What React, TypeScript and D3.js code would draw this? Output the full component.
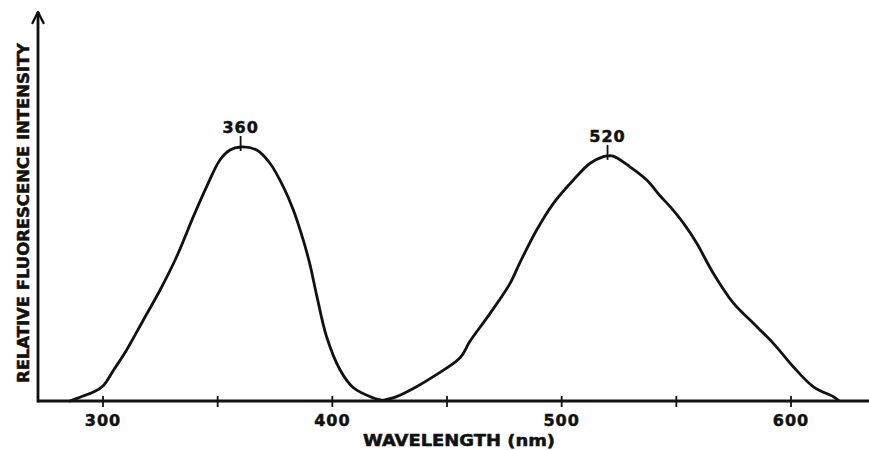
import React, { useEffect, useRef } from 'react';
import * as d3 from 'd3';

// excitation band (nm, relative intensity)
const exNm = [285.6, 290, 295.8, 300.1, 304.5, 310.3, 317.6, 324.9, 332.1, 339.4, 345.2, 351.0, 355.4, 360, 367.0, 372.8, 378.6, 383.0, 387.3, 390.3, 393.2, 397.5, 403.4, 409.2, 417.9, 422];
const exI = [0, 1.5, 3.5, 6.0, 12.0, 20.1, 31.9, 43.7, 56.8, 72.6, 84.4, 94.9, 98.8, 100, 98.8, 93.6, 84.4, 75.2, 63.4, 53.5, 41.5, 25.3, 12.2, 5.2, 1.2, 0.2];

// emission band
const emNm = [422, 428, 436.7, 444, 455.7, 460, 468.8, 477.5, 481.8, 489.1, 496.4, 505.1, 512.4, 518.2, 520, 522.5, 529.8, 537.1, 542.9, 547.3, 553.1, 558.9, 566.1, 574.9, 583.6, 592.3, 601.0, 609.8, 618.5, 620.7];
const emI = [0.2, 1.7, 5.6, 9.6, 17.0, 23.5, 34.5, 46.3, 54.5, 67.3, 77.8, 87.0, 93.6, 96.2, 96.5, 96.4, 92.2, 87.0, 80.8, 76.5, 70.0, 62.1, 50.3, 38.5, 30.6, 22.7, 13.5, 5.6, 1.7, 0.3];

const xTicks = [300, 350, 400, 450, 500, 550, 600];
const xTickLabels = ['300', '', '400', '', '500', '', '600'];
const peaks = [
  { nm: 360, value: 100, label: '360' },
  { nm: 520, value: 96.5, label: '520' },
];

const W = 869;
const H = 450;
const INK = '#111';
const FONT = '"DejaVu Sans", Verdana, sans-serif';

export default function App() {
  const svgRef = useRef<SVGSVGElement>(null);

  useEffect(() => {
    if (!svgRef.current) return;
    const svg = d3.select(svgRef.current);
    svg.selectAll('*').remove();

    const x = d3.scaleLinear().domain([300, 600]).range([103, 791]);
    const y = d3.scaleLinear().domain([0, 100]).range([401, 147]);

    const axisX0 = 38;
    const axisY0 = y(0);

    // x axis
    svg.append('line')
      .attr('x1', axisX0).attr('x2', W)
      .attr('y1', axisY0).attr('y2', axisY0)
      .attr('stroke', INK).attr('stroke-width', 2.8);

    // y axis with arrow
    svg.append('line')
      .attr('x1', axisX0).attr('x2', axisX0)
      .attr('y1', axisY0 + 1.4).attr('y2', 12)
      .attr('stroke', INK).attr('stroke-width', 2.8);
    svg.append('path')
      .attr('d', `M${axisX0 - 5.5},23 L${axisX0},12 L${axisX0 + 5.5},23`)
      .attr('fill', 'none').attr('stroke', INK).attr('stroke-width', 2.4)
      .attr('stroke-linejoin', 'round').attr('stroke-linecap', 'round');

    // ticks
    svg.selectAll('line.tick')
      .data(xTicks)
      .enter().append('line')
      .attr('class', 'tick')
      .attr('x1', d => x(d)).attr('x2', d => x(d))
      .attr('y1', axisY0 - 5).attr('y2', axisY0 + 6)
      .attr('stroke', INK).attr('stroke-width', 1.8);

    const boldText = (sel: d3.Selection<SVGTextElement, any, any, any>, size: number) =>
      sel.attr('font-family', FONT).attr('font-weight', 'bold')
        .attr('font-size', size)
        .attr('fill', INK)
        .attr('stroke', INK).attr('stroke-width', 0.5);

    svg.selectAll('text.tl')
      .data(xTicks)
      .enter().append('text')
      .attr('class', 'tl')
      .attr('x', d => x(d))
      .attr('y', axisY0 + 24.5)
      .attr('text-anchor', 'middle')
      .attr('letter-spacing', 1)
      .call(s => boldText(s as any, 16))
      .text((_, i) => xTickLabels[i]);

    // axis titles
    svg.append('text')
      .attr('x', 459).attr('y', 445.5)
      .attr('text-anchor', 'middle')
      .attr('textLength', 192).attr('lengthAdjust', 'spacingAndGlyphs')
      .call(s => boldText(s as any, 15))
      .text('WAVELENGTH (nm)');

    svg.append('text')
      .attr('transform', 'translate(28.5,213) rotate(-90)')
      .attr('text-anchor', 'middle')
      .attr('textLength', 340).attr('lengthAdjust', 'spacingAndGlyphs')
      .call(s => boldText(s as any, 15))
      .text('RELATIVE FLUORESCENCE INTENSITY');

    // spectrum curves
    const line = d3.line<[number, number]>()
      .x(d => x(d[0]))
      .y(d => Math.min(y(d[1]), axisY0))
      .curve(d3.curveCatmullRom.alpha(0.5));

    const series = [
      { nm: exNm, val: exI },
      { nm: emNm, val: emI },
    ];
    series.forEach(s => {
      svg.append('path')
        .datum(s.nm.map((n, i) => [n, s.val[i]] as [number, number]))
        .attr('fill', 'none')
        .attr('stroke', INK)
        .attr('stroke-width', 2.8)
        .attr('stroke-linejoin', 'round')
        .attr('stroke-linecap', 'round')
        .attr('d', line);
    });

    // peak markers
    peaks.forEach(p => {
      svg.append('line')
        .attr('x1', x(p.nm)).attr('x2', x(p.nm))
        .attr('y1', y(p.value) - 11).attr('y2', y(p.value) + 4)
        .attr('stroke', INK).attr('stroke-width', 1.8);
      svg.append('text')
        .attr('x', x(p.nm))
        .attr('y', y(p.value) - 14)
        .attr('text-anchor', 'middle')
        .attr('letter-spacing', 1)
        .call(s => boldText(s as any, 16))
        .text(p.label);
    });
  }, []);

  return (
    <svg
      ref={svgRef}
      width={W}
      height={H}
      style={{ position: 'absolute', left: 0, top: 0, background: '#fff' }}
    />
  );
}
